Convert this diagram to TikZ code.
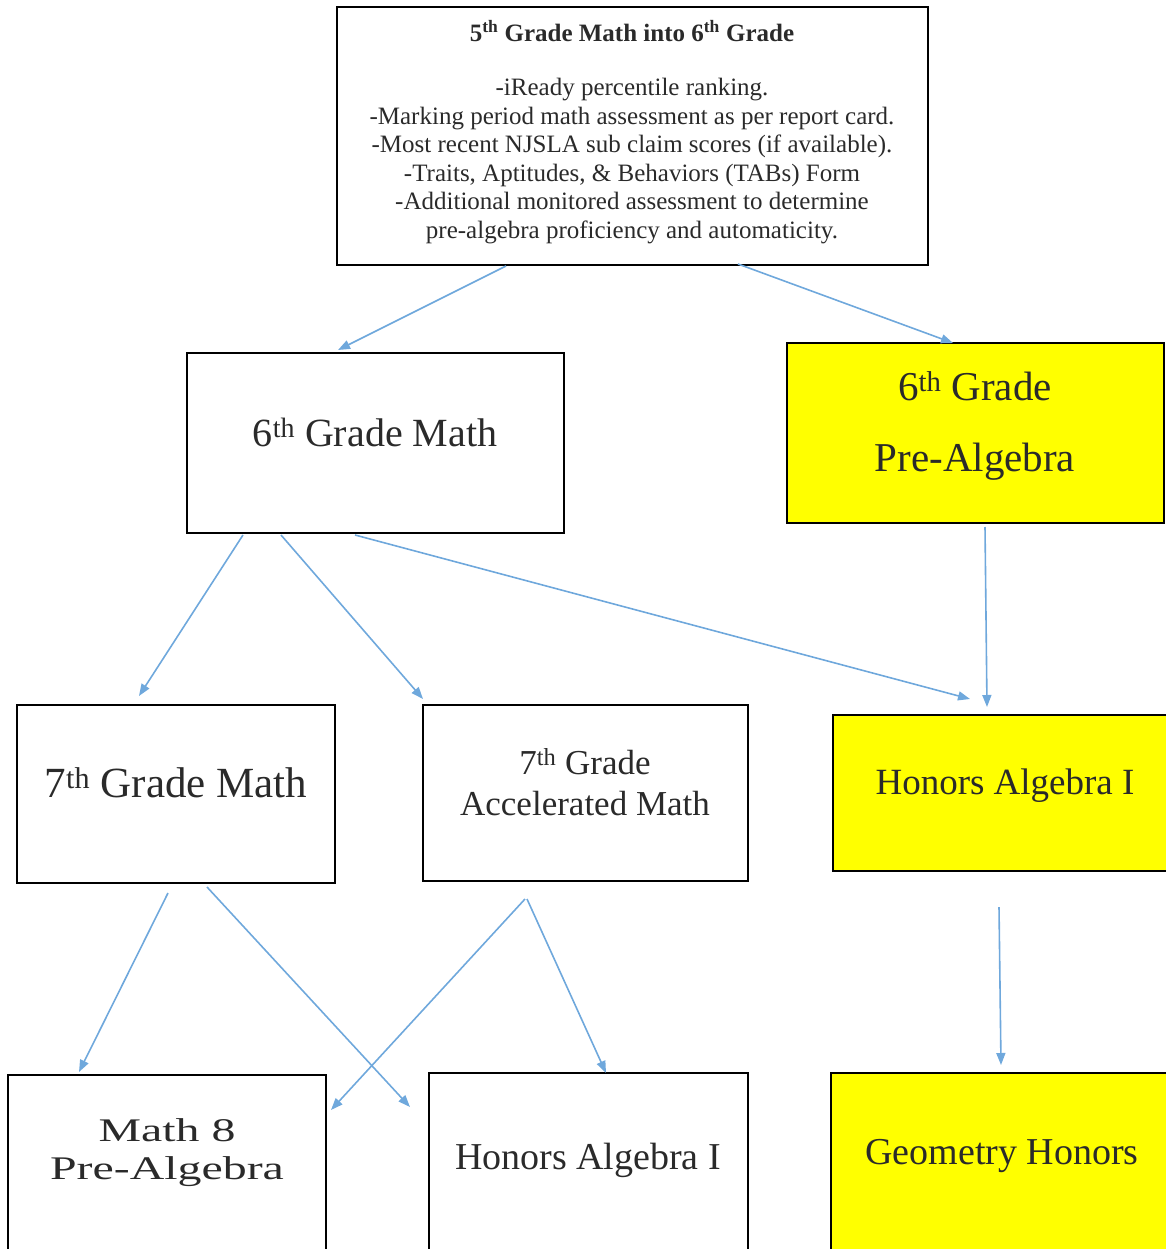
\documentclass[tikz,border=0pt]{standalone}
\usepackage{fontspec}
\setmainfont{Liberation Serif}
\usetikzlibrary{arrows.meta,calc}
\definecolor{arrowblue}{HTML}{6FA8DC}
\definecolor{boxyellow}{HTML}{FFFF00}
\definecolor{textgray}{HTML}{2A2A2A}
\begin{document}
\begin{tikzpicture}[x=1pt,y=-1pt,
  box/.style={draw=black,line width=2pt,inner sep=0pt,outer sep=0pt},
  ybox/.style={box,fill=boxyellow},
  lbl/.style={inner sep=0pt,align=center,text=textgray},
  conn/.style={draw=arrowblue,line width=1.6pt,-{Triangle[length=12pt,width=9pt]}}]
\useasboundingbox (0,0) rectangle (1166,1249);
% boxes
\node[box,minimum width=591pt,minimum height=258pt] (top) at (632.5,136) {};
\node[box,minimum width=377pt,minimum height=180pt] (m6) at (375.5,443) {};
\node[ybox,minimum width=377pt,minimum height=180pt] (pa6) at (975.5,433) {};
\node[box,minimum width=318pt,minimum height=178pt] (m7) at (176,794) {};
\node[box,minimum width=325pt,minimum height=176pt] (acc7) at (585.5,793) {};
\node[ybox,minimum width=337pt,minimum height=156pt] (ha1) at (1001.5,793) {};
\node[box,minimum width=318pt,minimum height=185pt] (m8) at (167,1167.5) {};
\node[box,minimum width=319pt,minimum height=187pt] (ha1b) at (588.5,1166.5) {};
\node[ybox,minimum width=339pt,minimum height=187pt] (geo) at (1000.5,1166.5) {};
% texts
\node[lbl,font=\fontsize{25}{28}\selectfont\bfseries] (ttitle) at (632,31) {5\textsuperscript{th} Grade Math into 6\textsuperscript{th} Grade};
\node[lbl,font=\fontsize{25}{28.6}\selectfont] (tbody) at (632,161) {-iReady percentile ranking.\\-Marking period math assessment as per report card.\\-Most recent NJSLA sub claim scores (if available).\\-Traits, Aptitudes, \& Behaviors (TABs) Form\\-Additional monitored assessment to determine\\pre-algebra proficiency and automaticity.};
\node[lbl,font=\fontsize{40}{46}\selectfont] (tm6) at (375,432) {6\textsuperscript{th} Grade Math};
\node[lbl,font=\fontsize{41}{71}\selectfont] (tpa6) at (975,426) {6\textsuperscript{th} Grade\\Pre-Algebra};
\node[lbl,font=\fontsize{43}{48}\selectfont] (tm7) at (176,783) {7\textsuperscript{th} Grade Math};
\node[lbl,font=\fontsize{35}{41}\selectfont] (tacc7) at (585,782) {7\textsuperscript{th} Grade\\Accelerated Math};
\node[lbl,font=\fontsize{37}{42}\selectfont] (tha1) at (1005,786) {Honors Algebra I};
\node[lbl,font=\fontsize{33}{38}\selectfont] (tm8) at (167,1153) {\scalebox{1.45}[1]{\begin{tabular}{@{}c@{}}Math 8\\Pre-Algebra\end{tabular}}};
\node[lbl,font=\fontsize{38}{42}\selectfont] (tha1b) at (588,1160) {Honors Algebra I};
\node[lbl,font=\fontsize{38}{42}\selectfont] (tgeo) at (1002,1156) {Geometry Honors};
% connectors
\draw[conn] ($(top.south)+(-126.5,1)$) -- ($(m6.north)+(-37.5,-3)$);
\draw[conn] ($(top.south)+(105.5,-1)$) -- ($(pa6.north)+(-22.5,0)$);
\draw[conn] ($(m6.south)+(-132.5,2)$) -- ($(m7.north)+(-37,-9)$);
\draw[conn] ($(m6.south)+(-94.5,2)$) -- ($(acc7.north west)+(0,-6)$);
\draw[conn] ($(m6.south)+(-20.5,2)$) -- ($(ha1.north)+(-31.5,-16)$);
\draw[conn] ($(pa6.south)+(9.5,4)$) -- ($(ha1.north)+(-14.5,-8)$);
\draw[conn] ($(m7.south)+(-8,10)$) -- ($(m8.north)+(-88,-3)$);
\draw[conn] ($(m7.south)+(31,4)$) -- ($(ha1b.west)+(-19,-59.5)$);
\draw[conn] ($(acc7.south)+(-60.5,18)$) -- ($(m8.east)+(5,-57.5)$);
\draw[conn] ($(acc7.south)+(-58.5,18)$) -- ($(ha1b.north)+(17.5,0)$);
\draw[conn] ($(ha1.south)+(-2.5,36)$) -- ($(geo.north)+(0.5,-8)$);
\end{tikzpicture}
\end{document}
